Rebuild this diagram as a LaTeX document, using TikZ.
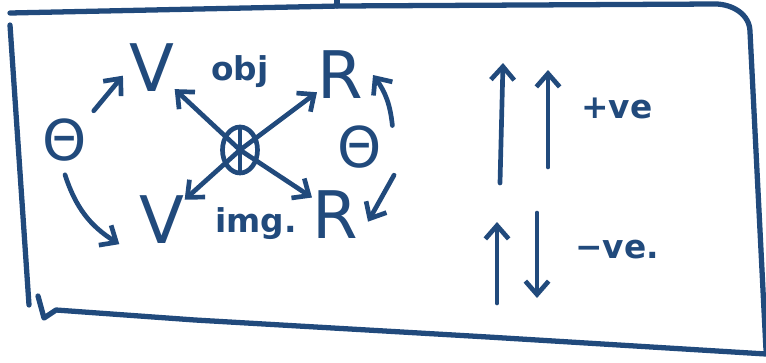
\documentclass[tikz,border=0pt]{standalone}
\usepackage{fontspec}
\setmainfont{DejaVu Sans}
\usetikzlibrary{arrows.meta,shapes.geometric}
\definecolor{ink}{RGB}{33,74,124}

\begin{document}
\begin{tikzpicture}[
    x=0.03cm,y=-0.03cm,
    sym/.style={inner sep=0pt, text=ink, font=\fontsize{56}{60}\selectfont},
    theta/.style={inner sep=0pt, text=ink, font=\fontsize{48}{52}\selectfont},
    word/.style={inner sep=0pt, text=ink, font=\bfseries\fontsize{28}{32}\selectfont},
    hubnode/.style={draw=ink, ellipse, line width=4pt, minimum width=1.05cm,
      minimum height=1.38cm, inner sep=0pt},
    edge/.style={-{Straight Barb[length=4mm,width=7mm]}, draw=ink, line width=4pt,
      line cap=round},
    frame/.style={draw=ink, line width=4.5pt, line cap=round, line join=round}
  ]
    \useasboundingbox (0,0) rectangle (766,362);

    % frame
    \draw[frame] (10,13) -- (340,6) -- (715,4) to[out=0,in=90] (750,32) -- (766,350);
    \draw[frame] (10,25) -- (29,305);
    \draw[frame] (38,296) -- (44,318) -- (56,310) -- (195,320) -- (488,337) -- (766,354);
    \draw[frame] (337,0) -- (337,6);

    \node[theta] (thL) at (65,140) {Θ};
    \node[sym] (vT) at (152,68) {V};
    \node[word] (obj) at (240,72) {obj};
    \node[sym] (rT) at (340,75) {R};
    \node[hubnode] (hub) at (240,150) {};
    \node[theta] (thR) at (360,147) {Θ};
    \node[sym] (vB) at (162,220) {V};
    \node[word] (img) at (256,224) {img.};
    \node[sym] (rB) at (335,215) {R};

    \draw[ink, line width=3pt] (hub.north) -- (hub.south);
    \draw[edge] (hub.center) -- (vT);
    \draw[edge] (hub.center) -- (rT);
    \draw[edge] (hub.center) -- (vB);
    \draw[edge] (hub.center) -- ([yshift=-0.2cm]rB.north west);

    \draw[edge, shorten <=3mm, shorten >=3mm] (thL.north east) -- (vT.west);
    \draw[edge] ([yshift=-0.4cm]thL.south) to[bend right=20] ([xshift=-0.6cm]vB.south west);
    \draw[edge] ([xshift=0.3cm]thR.north east) to[bend right=15] ([xshift=0.3cm]rT.east);
    \draw[edge] ([xshift=0.35cm,yshift=-0.2cm]thR.south east) -- ([xshift=0.3cm,yshift=-0.2cm]rB.east);

    % right part
    \draw[edge] (500,183) -- (503,63);
    \draw[edge] (548,167) -- (548,70);
    \node[word] (pos) at (617,108) {+ve};
    \draw[edge] (497,303) -- (497,222);
    \draw[edge] (537,213) -- (537,298);
    \node[word] (neg) at (617,250) {−ve.};
  \end{tikzpicture}
\end{document}
